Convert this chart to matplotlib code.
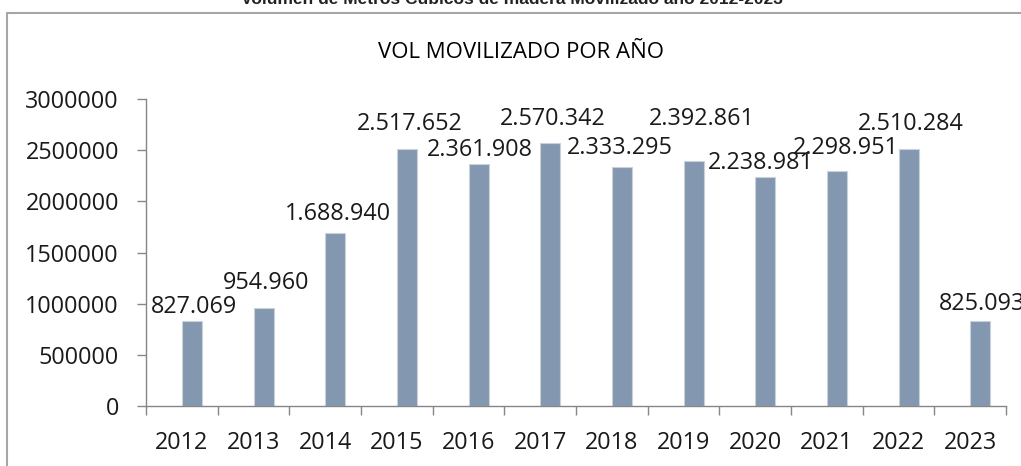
import matplotlib
matplotlib.use("Agg")
from matplotlib import pyplot as plt
from matplotlib.patches import Rectangle

# data
years = ['2012', '2013', '2014', '2015', '2016', '2017', '2018', '2019', '2020', '2021', '2022', '2023']
volumen = [827069, 954960, 1688940, 2517652, 2361908, 2570342, 2333295, 2392861, 2238981, 2298951, 2510284, 825093]
y_ticks = [0, 500000, 1000000, 1500000, 2000000, 2500000, 3000000]

# label placement (pixels from bar top centre), as in the source chart
label_dx = [2, 3, 3, 3, 1, 3, -2, 8, -4, 9, 2, 2]
label_dy = [16, 27, 21, 27, 16, 26, 21, 44, 16, 25, 27, 19]

plt.rcParams['font.family'] = ['Open Sans', 'DejaVu Sans']

W, H = 1021, 466
fig = plt.figure(figsize=(W / 100, H / 100), dpi=100)

# outer chart frame (partly off the picture)
fig.add_artist(Rectangle((7 / W, -0.1), 1.2, 1.1 - 12.7 / H, transform=fig.transFigure,
                         fill=False, edgecolor='#a6a6a6', linewidth=1.5))

# cut-off heading above the frame
fig.text(512 / W, 1 - 4 / H, 'Volumen de Metros Cúbicos de madera Movilizado año 2012-2023',
         ha='center', va='baseline', fontsize=12.5, fontweight='bold',
         family=['Liberation Sans', 'DejaVu Sans'], color='#222222')

fig.text(521 / W, 1 - 58.5 / H, 'VOL MOVILIZADO POR AÑO', ha='center', va='baseline',
         fontsize=16, family=['Open Sans', 'DejaVu Sans'], color='black')

ax = fig.add_axes([146 / W, 1 - 405.7 / H, 860 / W, 306.4 / H])
x = list(range(len(years)))
bw = 0.28
ax.bar(x, volumen, width=bw, align='edge', color='#8497b0', edgecolor='#c9d1dd', linewidth=0.8)

for i, v in enumerate(volumen):
    txt = f"{v:,}".replace(',', '.')
    ax.annotate(txt, xy=(i + bw / 2, v), xytext=(label_dx[i], label_dy[i] - 8),
                textcoords='offset pixels', ha='center', va='baseline',
                fontsize=16.8, color='#1a1a1a', annotation_clip=False)

ax.set_xlim(-0.5, len(years) - 0.5)
ax.set_ylim(0, 3000000)
ax.set_yticks(y_ticks)
ax.set_yticklabels([str(t) for t in y_ticks])
ax.set_xticks(x)
ax.set_xticklabels(years)
ax.set_xticks([i - 0.5 for i in range(len(years) + 1)], minor=True)

ax.tick_params(axis='y', length=6.5, width=1, color='#868686', pad=13, labelsize=16.8, labelcolor='#1a1a1a')
ax.tick_params(axis='x', which='major', length=0, pad=18.5, labelsize=16.8, labelcolor='#1a1a1a')
ax.tick_params(axis='x', which='minor', length=6.5, width=1, color='#868686')

for s in ['top', 'right']:
    ax.spines[s].set_visible(False)
for s in ['left', 'bottom']:
    ax.spines[s].set_color('#868686')
    ax.spines[s].set_linewidth(1)

fig.savefig('out.png', dpi=100)
